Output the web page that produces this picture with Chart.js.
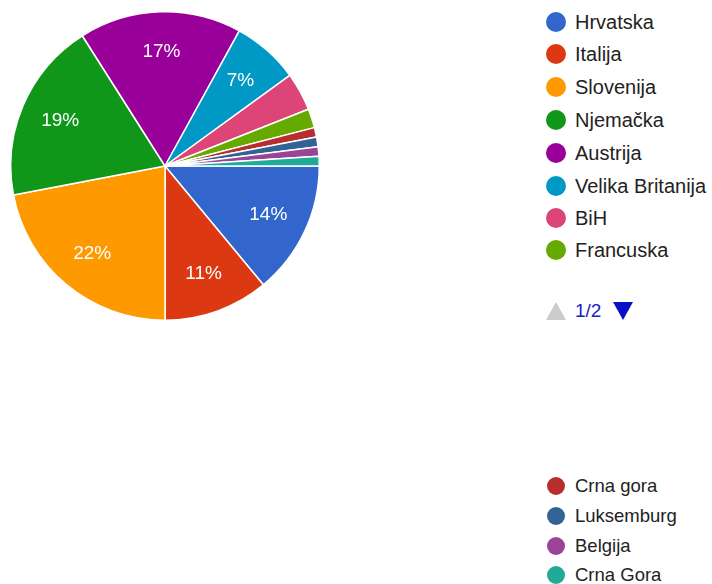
<!DOCTYPE html>
<html>
<head>
<meta charset="utf-8">
<script src="https://cdn.jsdelivr.net/npm/chart.js@4"></script>
<style>
  body { margin: 0; background: #fff; width: 712px; height: 584px; position: relative; overflow: hidden;
         font-family: "Liberation Sans", Arial, sans-serif; }
  #wrap { position: absolute; left: 10px; top: 11px; width: 310px; height: 310px; }
  .legend { position: absolute; left: 546px; margin: 0; padding: 0; list-style: none; }
  .legend li { position: absolute; left: 0; white-space: nowrap; color: #222; line-height: 24px; }
  .legend .dot { position: absolute; border-radius: 50%; }
  .pager { position: absolute; left: 546px; top: 300px; height: 22px; }
  .pager .up { position: absolute; left: 0; top: 2px; width: 0; height: 0;
               border-left: 10px solid transparent; border-right: 10px solid transparent; border-bottom: 18px solid #ccc; }
  .pager .num { position: absolute; left: 29px; top: -1px; font-size: 19px; color: #1a1acc; line-height: 24px; }
  .pager .down { position: absolute; left: 67px; top: 2px; width: 0; height: 0;
                 border-left: 10px solid transparent; border-right: 10px solid transparent; border-top: 18px solid #0a10c4; }
</style>
</head>
<body>
<div id="wrap"><canvas id="pie"></canvas></div>
<ul class="legend" id="legend1"></ul>
<div class="pager"><div class="up"></div><div class="num">1/2</div><div class="down"></div></div>
<ul class="legend" id="legend2"></ul>
<script>
const countries = ["Hrvatska", "Italija", "Slovenija", "Njemačka", "Austrija", "Velika Britanija",
                   "BiH", "Francuska", "Crna gora", "Luksemburg", "Belgija", "Crna Gora"];
const shares = [14, 11, 22, 19, 17, 7, 4, 2, 1, 1, 1, 1];
const colors = ["#3366cc", "#dc3912", "#ff9900", "#109618", "#990099", "#0099c6",
                "#dd4477", "#66aa00", "#b82e2e", "#316395", "#994499", "#22aa99"];

// percent labels inside the bigger slices
const sliceLabels = {
    id: "sliceLabels",
    afterDatasetsDraw(chart) {
        const ctx = chart.ctx;
        const meta = chart.getDatasetMeta(0);
        const data = chart.data.datasets[0].data;
        const total = data.reduce((a, b) => a + b, 0);
        ctx.save();
        ctx.fillStyle = "#fff";
        ctx.font = '19px "Liberation Sans", Arial, sans-serif';
        ctx.textAlign = "center";
        ctx.textBaseline = "middle";
        meta.data.forEach(function(arc, i) {
            const pct = data[i] / total * 100;
            if (pct < 5) return;
            const p = arc.getProps(["x", "y", "startAngle", "endAngle", "outerRadius"], true);
            const mid = (p.startAngle + p.endAngle) / 2;
            const r = p.outerRadius * 0.74;
            ctx.fillText(Math.round(pct) + "%", p.x + Math.cos(mid) * r, p.y + Math.sin(mid) * r);
        });
        ctx.restore();
    }
};

new Chart("pie", {
    type: "pie",
    data: {
        labels: countries,
        datasets: [{
            data: shares,
            backgroundColor: colors,
            borderColor: "#fff",
            borderWidth: 1.5
        }]
    },
    options: {
        responsive: true,
        maintainAspectRatio: false,
        animation: false,
        rotation: 90,
        plugins: {
            legend: { display: false },
            tooltip: { enabled: false }
        }
    },
    plugins: [sliceLabels]
});

// legend, page 1 on top, the rest further down
function buildLegend(id, from, to, tops, size, dot) {
    const ul = document.getElementById(id);
    for (let i = from; i < to; i++) {
        const li = document.createElement("li");
        li.style.top = (tops[i - from] - 12) + "px";
        li.style.fontSize = size + "px";
        li.innerHTML = '<span class="dot" style="left:' + (10 - dot / 2) + 'px;top:' + (12 - dot / 2) +
            'px;width:' + dot + 'px;height:' + dot + 'px;background:' + colors[i] + '"></span>' +
            '<span style="position:absolute;left:29px;top:0">' + countries[i] + '</span>';
        ul.appendChild(li);
    }
}
buildLegend("legend1", 0, 8, [22, 54, 87, 120, 153, 186, 218, 250], 20, 20);
buildLegend("legend2", 8, 12, [486, 516, 546, 575], 18.5, 18);
</script>
</body>
</html>
